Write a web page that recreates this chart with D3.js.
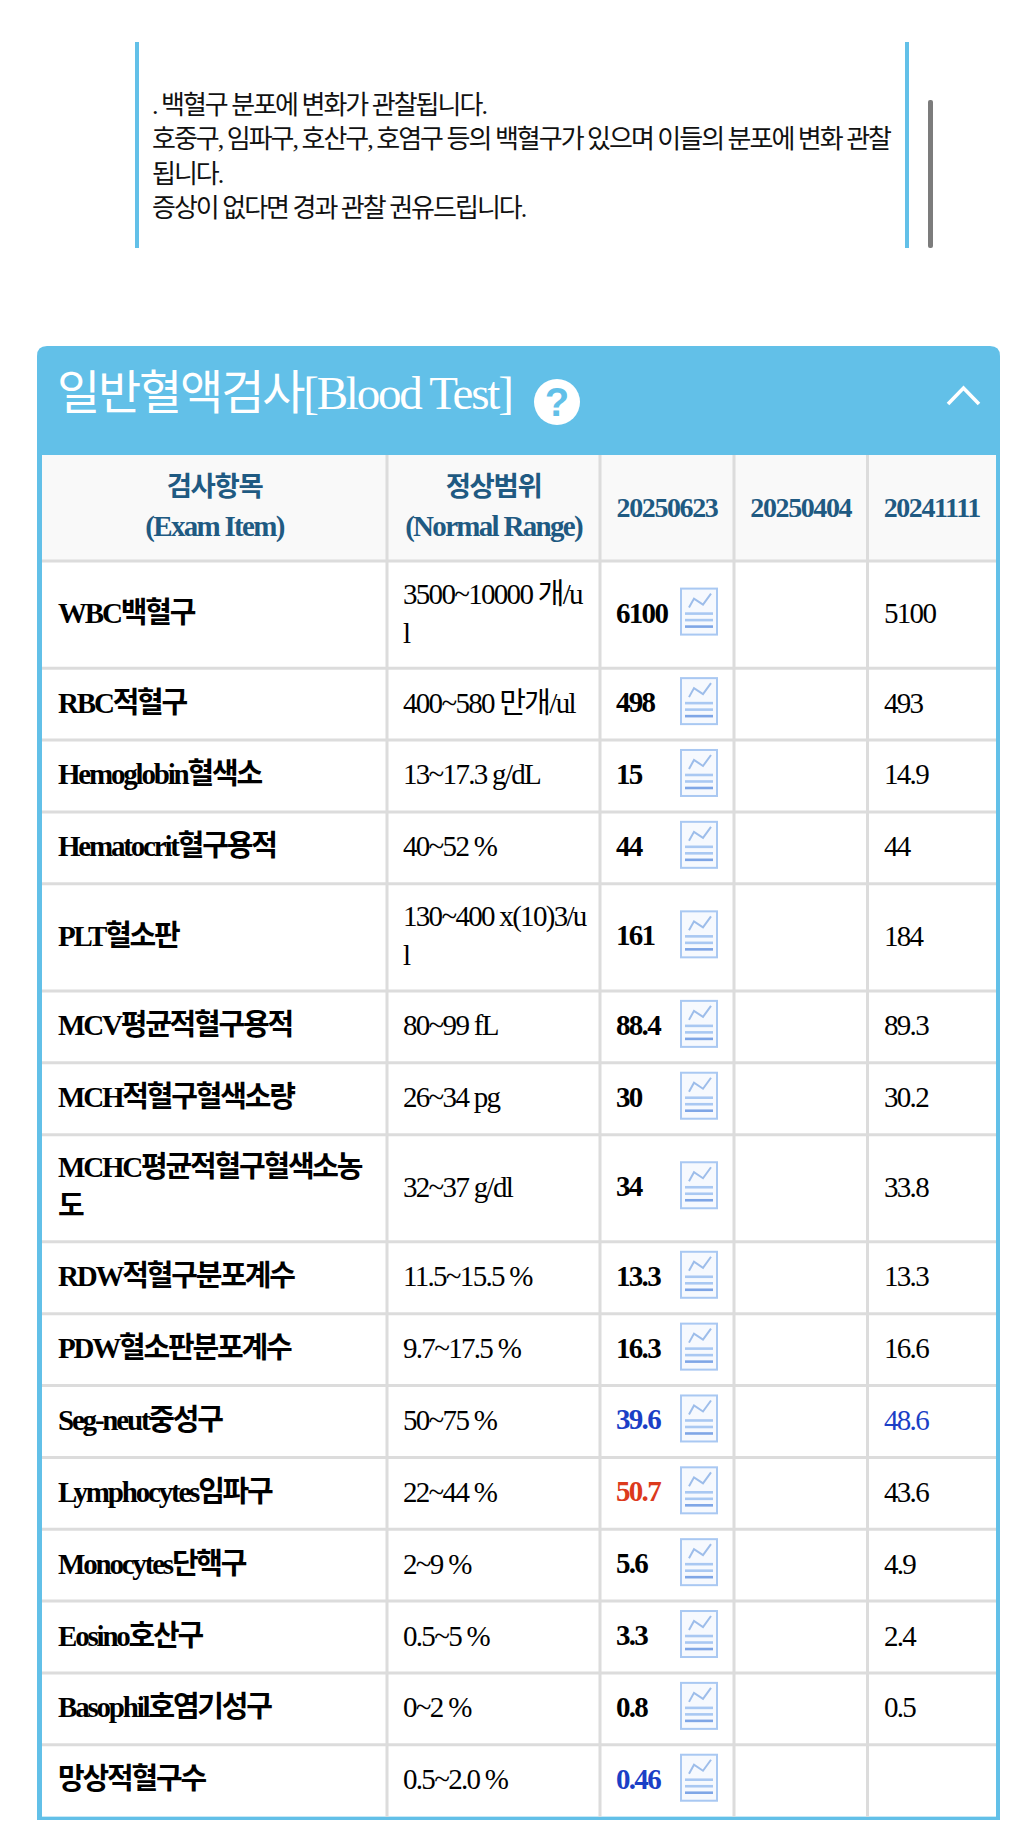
<!DOCTYPE html>
<html>
<head>
<meta charset="utf-8">
<script src="https://d3js.org/d3.v7.min.js"></script>
<style>
html, body { margin: 0; padding: 0; background: #fff; }
svg { display: block; }
text { font-family: "Liberation Serif", "Noto Sans CJK KR", serif; }
</style>
</head>
<body>
<script>
// note lines above the table
var noteLines = [". 백혈구 분포에 변화가 관찰됩니다.",
                 "호중구, 임파구, 호산구, 호염구 등의 백혈구가 있으며 이들의 분포에 변화 관찰",
                 "됩니다.",
                 "증상이 없다면 경과 관찰 권유드립니다."];

var title = "일반혈액검사[Blood Test]";
var dates = ["20250623", "20250404", "20241111"];

// "\n" is where the cell wraps in the picture
var items = ["WBC백혈구", "RBC적혈구", "Hemoglobin혈색소", "Hematocrit혈구용적", "PLT혈소판",
             "MCV평균적혈구용적", "MCH적혈구혈색소량", "MCHC평균적혈구혈색소농\n도", "RDW적혈구분포계수",
             "PDW혈소판분포계수", "Seg-neut중성구", "Lymphocytes임파구", "Monocytes단핵구",
             "Eosino호산구", "Basophil호염기성구", "망상적혈구수"];
var ranges = ["3500~10000 개/u\nl", "400~580 만개/ul", "13~17.3 g/dL", "40~52 %", "130~400 x(10)3/u\nl",
              "80~99 fL", "26~34 pg", "32~37 g/dl", "11.5~15.5 %", "9.7~17.5 %", "50~75 %", "22~44 %",
              "2~9 %", "0.5~5 %", "0~2 %", "0.5~2.0 %"];
var values1 = ["6100", "498", "15", "44", "161", "88.4", "30", "34", "13.3", "16.3", "39.6", "50.7", "5.6", "3.3", "0.8", "0.46"];
var values3 = ["5100", "493", "14.9", "44", "184", "89.3", "30.2", "33.8", "13.3", "16.6", "48.6", "43.6", "4.9", "2.4", "0.5", ""];
// L = below range, H = above range, "" = normal
var flags1 = ["", "", "", "", "", "", "", "", "", "", "L", "H", "", "", "", "L"];
var flags3 = ["", "", "", "", "", "", "", "", "", "", "L", "", "", "", "", ""];

var w = 1025, h = 1822;
var skyBlue = "#62c0e8", gridGrey = "#dcdcdc", headBlue = "#1f5a82";
var flagColor = { "": "#000", L: "#1b3fc6", H: "#dc3a1c" };

var svg = d3.select("body").append("svg").attr("width", w).attr("height", h);

/* note box */
svg.selectAll("rect.noteEdge").data([135, 905]).enter().append("rect")
    .attr("class", "noteEdge").attr("x", function(d) { return d; }).attr("y", 42)
    .attr("width", 4).attr("height", 206).attr("fill", skyBlue);
svg.append("rect").attr("x", 928).attr("y", 100).attr("width", 5).attr("height", 148).attr("rx", 2).attr("fill", "#7c7c7c");

var noteY = d3.scaleLinear().domain([0, 3]).range([114, 217]);
svg.selectAll("text.note").data(noteLines).enter().append("text")
    .attr("class", "note").attr("x", 152).attr("y", function(d, i) { return noteY(i); })
    .attr("font-size", 26).attr("letter-spacing", -2).attr("fill", "#111")
    .text(function(d) { return d; });

/* panel */
var panelL = 37, panelR = 1000, panelT = 346, panelB = 1820;
svg.append("path")
    .attr("d", "M" + panelL + "," + panelB + "V" + (panelT + 10) + "Q" + panelL + "," + panelT + " " + (panelL + 10) + "," + panelT +
               "H" + (panelR - 10) + "Q" + panelR + "," + panelT + " " + panelR + "," + (panelT + 10) + "V" + panelB + "Z")
    .attr("fill", skyBlue);

svg.append("text").attr("x", 57).attr("y", 409).attr("font-size", 47).attr("letter-spacing", -2.2)
    .attr("fill", "#fff").text(title);
svg.append("circle").attr("cx", 557).attr("cy", 402).attr("r", 23).attr("fill", "#fff");
svg.append("text").attr("x", 557).attr("y", 416).attr("text-anchor", "middle").attr("font-size", 40)
    .attr("font-weight", "bold").style("font-family", "'Liberation Sans Narrow', 'Liberation Sans'").attr("fill", skyBlue).text("?");
svg.append("path").attr("d", "M948,404L963.5,388L979,404").attr("fill", "none")
    .attr("stroke", "#fff").attr("stroke-width", 3.6);

/* table */
var tableL = 42, tableR = 996, headT = 455, headB = 561;
var colX = d3.scaleOrdinal().domain(["item", "range", dates[0], dates[1], dates[2], "end"])
    .range([tableL, 387, 600, 734, 867.5, tableR]);

var lineCount = items.map(function(d, i) { return Math.max(d.split("\n").length, ranges[i].split("\n").length); });
var rowHeight = d3.scaleOrdinal().domain([1, 2]).range([71.85, 107.2]);
var rowTop = [headB];
lineCount.forEach(function(n, i) { rowTop.push(rowTop[i] + rowHeight(n)); });
var rows = items.map(function(d, i) {
    return { item: d, range: ranges[i], v1: values1[i], v3: values3[i], f1: flags1[i], f3: flags3[i],
             mid: (rowTop[i] + rowTop[i + 1]) / 2 };
});
var tableB = rowTop[rowTop.length - 1];

svg.append("rect").attr("x", tableL).attr("y", headT).attr("width", tableR - tableL).attr("height", tableB - headT).attr("fill", "#fff");
svg.append("rect").attr("x", tableL).attr("y", headT).attr("width", tableR - tableL).attr("height", headB - headT).attr("fill", "#f9f9f9");

svg.selectAll("line.rowLine").data(rowTop.slice(0, -1)).enter().append("line")
    .attr("class", "rowLine").attr("x1", tableL).attr("x2", tableR)
    .attr("y1", function(d) { return d; }).attr("y2", function(d) { return d; })
    .attr("stroke", gridGrey).attr("stroke-width", 3);
svg.selectAll("line.colLine").data(colX.range().slice(1, -1)).enter().append("line")
    .attr("class", "colLine").attr("y1", headT).attr("y2", tableB)
    .attr("x1", function(d) { return d; }).attr("x2", function(d) { return d; })
    .attr("stroke", gridGrey).attr("stroke-width", 3);

/* header cells */
function colMid(key) {
    var i = colX.domain().indexOf(key);
    return (colX(key) + colX(colX.domain()[i + 1])) / 2;
}
var headCells = [["검사항목", "(Exam Item)", "item"], ["정상범위", "(Normal Range)", "range"]];
headCells.forEach(function(c) {
    svg.append("text").attr("x", colMid(c[2])).attr("y", 496).attr("text-anchor", "middle")
        .attr("font-size", 27.5).attr("font-weight", "bold").attr("letter-spacing", -1.4).attr("fill", headBlue).text(c[0]);
    svg.append("text").attr("x", colMid(c[2])).attr("y", 536).attr("text-anchor", "middle")
        .attr("font-size", 29).attr("font-weight", "bold").attr("letter-spacing", -1.7).attr("fill", headBlue).text(c[1]);
});
svg.selectAll("text.date").data(dates).enter().append("text")
    .attr("class", "date").attr("x", function(d) { return colMid(d); }).attr("y", 517)
    .attr("text-anchor", "middle").attr("font-size", 28).attr("font-weight", "bold").attr("letter-spacing", -1.4)
    .attr("fill", headBlue).text(function(d) { return d; });

/* body cells */
var row = svg.selectAll("g.row").data(rows).enter().append("g").attr("class", "row");

row.each(function(d) {
    var g = d3.select(this);
    [[d.item, 58, -2.2, "bold"], [d.range, 403, -1.7, "normal"]].forEach(function(c) {
        var parts = c[0].split("\n");
        var t = g.append("text").attr("font-size", 29).attr("letter-spacing", c[2]).attr("font-weight", c[3]).attr("fill", "#000");
        parts.forEach(function(p, i) {
            t.append("tspan").attr("x", c[1]).attr("y", d.mid + 8.5 + (i - (parts.length - 1) / 2) * 39).text(p);
        });
    });
});

row.append("text").attr("x", 616).attr("y", function(d) { return d.mid + 8; })
    .attr("font-size", 29).attr("font-weight", "bold").attr("letter-spacing", -1.7)
    .attr("fill", function(d) { return flagColor[d.f1]; }).text(function(d) { return d.v1; });
row.append("text").attr("x", 884).attr("y", function(d) { return d.mid + 8.5; })
    .attr("font-size", 29).attr("letter-spacing", -1.7)
    .attr("fill", function(d) { return flagColor[d.f3]; }).text(function(d) { return d.v3; });

/* graph icon */
var icon = row.append("g").attr("transform", function(d) { return "translate(680," + (d.mid - 27) + ")"; });
icon.append("rect").attr("x", 1).attr("y", 1).attr("width", 36).attr("height", 46)
    .attr("fill", "#f6f9fe").attr("stroke", "#a9c8f2").attr("stroke-width", 2);
icon.append("path").attr("d", "M9,20L14,11L23,17L31,6").attr("fill", "none").attr("stroke", "#9dbdea").attr("stroke-width", 2);
icon.selectAll("line").data([26, 32.5, 39]).enter().append("line")
    .attr("x1", 5).attr("x2", 33)
    .attr("y1", function(d) { return d; }).attr("y2", function(d) { return d; })
    .attr("stroke", function(d, i) { return i === 2 ? "#7fa6e6" : "#a9c8f2"; }).attr("stroke-width", 2.6);
</script>
</body>
</html>
